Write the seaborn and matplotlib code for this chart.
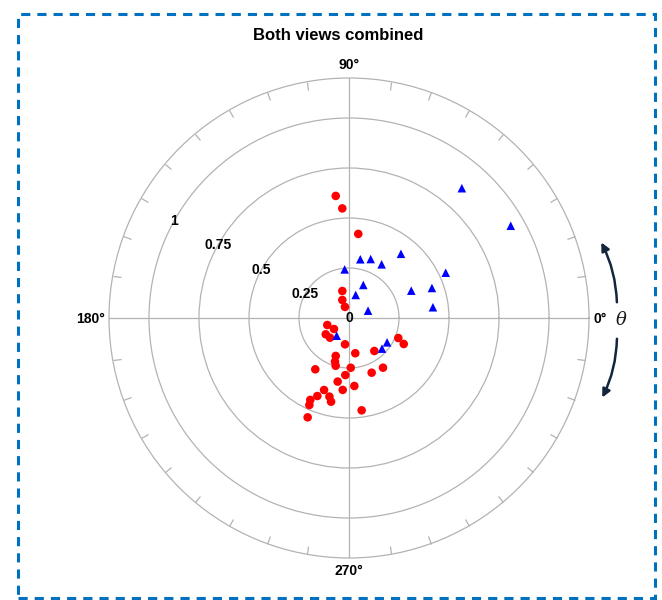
import numpy as np
import pandas as pd
import matplotlib
matplotlib.use("Agg")
import matplotlib.pyplot as plt
import seaborn as sns
from matplotlib.patches import FancyArrowPatch, Rectangle

# ---------------- data (angle in degrees, radius) ----------------
tri_theta = [49.0, 29.7, 51.0, 79.1, 69.8, 58.7, 25.1, 95.1, 66.6, 23.7,
             19.9, 73.8, 21.0, 7.3, 235.2, 327.4, 317.1]
tri_r = [0.860, 0.931, 0.413, 0.299, 0.314, 0.314, 0.534, 0.244, 0.180, 0.340,
         0.441, 0.120, 0.102, 0.423, 0.108, 0.226, 0.225]

circ_theta = [96.2, 93.5, 83.7, 103.9, 110.4, 110.0, 197.9, 216.3, 215.0, 226.0,
              261.4, 280.1, 250.7, 252.2, 254.4, 272.0, 236.7, 307.5, 337.9, 334.6,
              304.4, 292.5, 266.3, 259.9, 265.0, 274.5, 250.9, 247.9, 256.0, 257.9,
              244.7, 245.5, 277.8, 247.4]
circ_r = [0.614, 0.549, 0.423, 0.139, 0.096, 0.059, 0.114, 0.093, 0.142, 0.137,
          0.133, 0.179, 0.201, 0.229, 0.248, 0.249, 0.307, 0.208, 0.266, 0.303,
          0.301, 0.296, 0.286, 0.323, 0.361, 0.341, 0.381, 0.421, 0.405, 0.428,
          0.453, 0.478, 0.466, 0.538]

r_ticks = [0, 0.25, 0.5, 0.75, 1]
r_tick_labels = ["0", "0.25", "0.5", "0.75", "1"]
theta_ticks = [0, 90, 180, 270]
theta_tick_labels = ["0°", "90°", "180°", "270°"]
title = "Both views combined"

df = pd.DataFrame({
    "theta": np.radians(circ_theta + tri_theta),
    "r": circ_r + tri_r,
    "view": ["A"] * len(circ_r) + ["B"] * len(tri_r),
})

# ---------------- figure ----------------
plt.rcParams["font.family"] = ["Liberation Sans", "DejaVu Sans"]
plt.rcParams["text.color"] = "black"

W, H = 662, 600
fig = plt.figure(figsize=(W / 100, H / 100), dpi=100)
cx, cy, R = 349, 318, 240
ax = fig.add_axes([(cx - R) / W, 1 - (cy + R) / H, 2 * R / W, 2 * R / H],
                  projection="polar")

grid_col = "#b3b3b3"
rmax = 1.2
ax.set_ylim(0, rmax)
ax.set_rgrids([0.25, 0.5, 0.75, 1.0], labels=[""] * 4)
ax.set_thetagrids(theta_ticks, labels=[""] * len(theta_ticks))
ax.set_xticks(np.radians(np.arange(0, 360, 10)), minor=True)
ax.tick_params(axis="x", which="major", length=0)
ax.tick_params(axis="x", which="minor", direction="in", length=5.8,
               width=0.9, color=grid_col, bottom=False, top=True)
ax.tick_params(axis="y", length=0)
ax.grid(True, color=grid_col, linewidth=0.9)
ax.spines["polar"].set_color(grid_col)
ax.spines["polar"].set_linewidth(0.9)

sns.scatterplot(data=df, x="theta", y="r", hue="view", style="view",
                palette={"A": "#ff0000", "B": "#0000ff"},
                markers={"A": "o", "B": "^"}, s=38, linewidth=0,
                legend=False, ax=ax, zorder=5)
ax.set_xlabel("")
ax.set_ylabel("")

# angle labels outside the outer circle
label_place = {0: ("left", (4, -1)), 90: ("center", (0, 13)),
               180: ("right", (-4, -1)), 270: ("center", (0, -13))}
for th, tl in zip(theta_ticks, theta_tick_labels):
    ha, off = label_place[th]
    ax.annotate(tl, xy=(np.radians(th), rmax), xytext=off,
                textcoords="offset pixels", ha=ha, va="center",
                fontsize=10, fontweight="bold", color="black",
                annotation_clip=False)

for rv, rl in zip(r_ticks, r_tick_labels):
    ax.text(np.radians(151), rv, rl, ha="center", va="center",
            fontsize=10, fontweight="bold", color="black", zorder=6)

fig.text(338 / W, 1 - 35 / H, title, ha="center", va="center",
         fontsize=12, fontweight="bold", color="black")

# curved arrows and theta symbol
arrow_col = "#14263d"
def px(x, y):
    return (x / W, 1 - y / H)
a1 = FancyArrowPatch(px(617, 305), px(600, 240), transform=fig.transFigure,
                     connectionstyle="arc3,rad=0.12", arrowstyle="-|>",
                     mutation_scale=12, color=arrow_col, linewidth=1.8)
a2 = FancyArrowPatch(px(617, 336), px(601, 400), transform=fig.transFigure,
                     connectionstyle="arc3,rad=-0.12", arrowstyle="-|>",
                     mutation_scale=12, color=arrow_col, linewidth=1.8)
fig.patches.extend([a1, a2])
fig.text(621 / W, 1 - 320 / H, "θ", ha="center", va="center", fontsize=13,
         family="DejaVu Serif", style="italic", color="#1a1a1a")

# dashed border
border = Rectangle((18 / W, 1 - 598 / H), (655 - 18) / W, (598 - 14) / H,
                   transform=fig.transFigure, fill=False, edgecolor="#0070C0",
                   linewidth=2.2, linestyle=(0, (3.0, 2.3)))
fig.patches.append(border)

fig.savefig("out.png", dpi=100)
